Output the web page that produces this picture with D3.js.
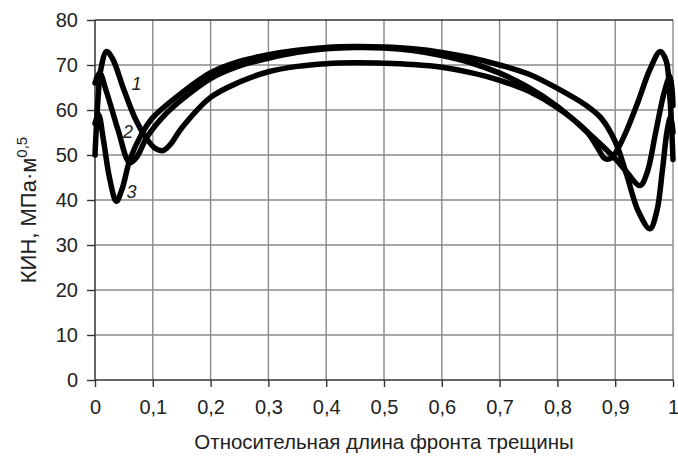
<!DOCTYPE html>
<html>
<head>
<meta charset="utf-8">
<script src="https://cdn.jsdelivr.net/npm/d3@7"></script>
<style>
  body { margin: 0; background: #fff; }
  svg text { font-family: "Liberation Sans", Arial, sans-serif; fill: #222; }
</style>
</head>
<body>
<svg id="chart" width="678" height="457"></svg>
<script>
// values: [relative front length, SIF]
var curve1 = [
  [0, 50], [0.005, 62], [0.01, 69], [0.02, 73], [0.03, 71.5], [0.05, 64.5], [0.07, 58],
  [0.09, 53.5], [0.105, 51.4], [0.118, 51], [0.13, 52.3], [0.15, 56], [0.2, 62.8],
  [0.25, 66.2], [0.3, 68.5], [0.35, 69.7], [0.4, 70.3], [0.45, 70.5], [0.5, 70.4],
  [0.55, 70.1], [0.6, 69.5], [0.65, 68.3], [0.7, 66.6], [0.75, 64.2], [0.8, 60.5],
  [0.85, 55.3], [0.87, 51.5], [0.882, 49.2], [0.893, 49.3], [0.905, 51.5], [0.92, 55.5],
  [0.94, 62], [0.96, 69], [0.978, 73], [0.988, 71], [0.995, 62], [1, 49]
];
var curve2 = [
  [0, 66], [0.008, 68.2], [0.02, 64], [0.04, 55.5], [0.06, 48.3], [0.072, 49.5],
  [0.09, 54], [0.12, 58.8], [0.15, 62.3], [0.2, 67], [0.25, 69.8], [0.3, 71.5],
  [0.35, 72.8], [0.4, 73.6], [0.45, 73.9], [0.5, 73.8], [0.55, 73.2], [0.6, 72.1],
  [0.65, 70.5], [0.7, 68.2], [0.75, 65], [0.8, 60.8], [0.85, 55.3], [0.9, 49.2],
  [0.92, 46.2], [0.943, 43.2], [0.955, 46], [0.97, 55], [0.985, 64], [0.995, 67.5], [1, 61]
];
var curve3 = [
  [0, 57], [0.006, 59], [0.015, 53], [0.025, 45], [0.037, 39.7], [0.047, 42.5],
  [0.06, 48.8], [0.08, 54.5], [0.1, 58.3], [0.15, 63.8], [0.2, 68.3], [0.25, 70.8],
  [0.3, 72.3], [0.35, 73.3], [0.4, 73.9], [0.45, 74.1], [0.5, 74], [0.55, 73.6],
  [0.6, 72.8], [0.65, 71.6], [0.7, 70], [0.75, 68], [0.8, 64.8], [0.85, 61],
  [0.875, 58.3], [0.9, 53], [0.92, 45.5], [0.94, 37.5], [0.96, 33.6], [0.972, 37.5],
  [0.982, 47], [0.99, 55.5], [0.996, 58.5], [1, 55]
];
var curveLabels = ["1", "2", "3"];
var labelPos = [[0.072, 65.8], [0.057, 55.2], [0.063, 41.8]];
var xTicks = [0, 0.1, 0.2, 0.3, 0.4, 0.5, 0.6, 0.7, 0.8, 0.9, 1];
var yTicks = [0, 10, 20, 30, 40, 50, 60, 70, 80];
var xTitle = "Относительная длина фронта трещины";
var yTitle = "КИН, МПа·м";
var yTitleSup = "0,5";

var svg = d3.select("#chart"),
  margin = { top: 20, right: 5, bottom: 77, left: 95 },
  width = +svg.attr("width") - margin.left - margin.right,
  height = +svg.attr("height") - margin.top - margin.bottom;

var x = d3.scaleLinear().domain([0, 1]).range([0, width]),
  y = d3.scaleLinear().domain([0, 80]).range([height, 0]);

var fmt = function(d) { return String(d).replace(".", ","); };

var g = svg.append("g")
  .attr("transform", "translate(" + margin.left + "," + margin.top + ")");

// grid
g.append("g").selectAll("line").data(xTicks.slice(1)).join("line")
  .attr("x1", d => x(d)).attr("x2", d => x(d))
  .attr("y1", 0).attr("y2", height)
  .attr("stroke", "#8a8a8a").attr("stroke-width", 1.4);
g.append("g").selectAll("line").data(yTicks.slice(1)).join("line")
  .attr("x1", 0).attr("x2", width)
  .attr("y1", d => y(d)).attr("y2", d => y(d))
  .attr("stroke", d => d === 80 ? "#333" : "#8a8a8a").attr("stroke-width", 1.4);

// axes
var xAxis = d3.axisBottom(x).tickValues(xTicks).tickFormat(fmt).tickSize(7).tickPadding(13);
var yAxis = d3.axisLeft(y).tickValues(yTicks).tickSize(8).tickPadding(9);

var gx = g.append("g").attr("transform", "translate(0," + height + ")").call(xAxis);
var gy = g.append("g").call(yAxis);
[gx, gy].forEach(function(a) {
  a.select(".domain").attr("stroke", "#333").attr("stroke-width", 1.5);
  a.selectAll(".tick line").attr("stroke", "#333").attr("stroke-width", 1.4);
  a.selectAll(".tick text").attr("font-size", 20).attr("fill", "#222");
});
gx.select(".domain").attr("d", "M0,0H" + width);
gy.select(".domain").attr("d", "M0," + height + "V0");

// curves
var line = d3.line()
  .x(d => x(d[0]))
  .y(d => y(d[1]))
  .curve(d3.curveCatmullRom.alpha(0.5));

g.append("g").selectAll("path").data([curve1, curve2, curve3]).join("path")
  .attr("d", line)
  .attr("fill", "none")
  .attr("stroke", "#000")
  .attr("stroke-width", 5.5)
  .attr("stroke-linejoin", "round")
  .attr("stroke-linecap", "round");

g.append("g").selectAll("text").data(curveLabels).join("text")
  .attr("x", (d, i) => x(labelPos[i][0]))
  .attr("y", (d, i) => y(labelPos[i][1]))
  .attr("dy", "0.35em")
  .attr("text-anchor", "middle")
  .attr("font-size", 18)
  .attr("font-style", "italic")
  .text(d => d);

// titles
svg.append("text")
  .attr("x", margin.left + width / 2)
  .attr("y", 449)
  .attr("text-anchor", "middle")
  .attr("font-size", 20.5)
  .text(xTitle);

var yt = svg.append("text")
  .attr("transform", "translate(36,210) rotate(-90)")
  .attr("text-anchor", "middle")
  .attr("font-size", 22);
yt.append("tspan").text(yTitle);
yt.append("tspan").attr("dy", -9).attr("font-size", 15).text(yTitleSup);
</script>
</body>
</html>
